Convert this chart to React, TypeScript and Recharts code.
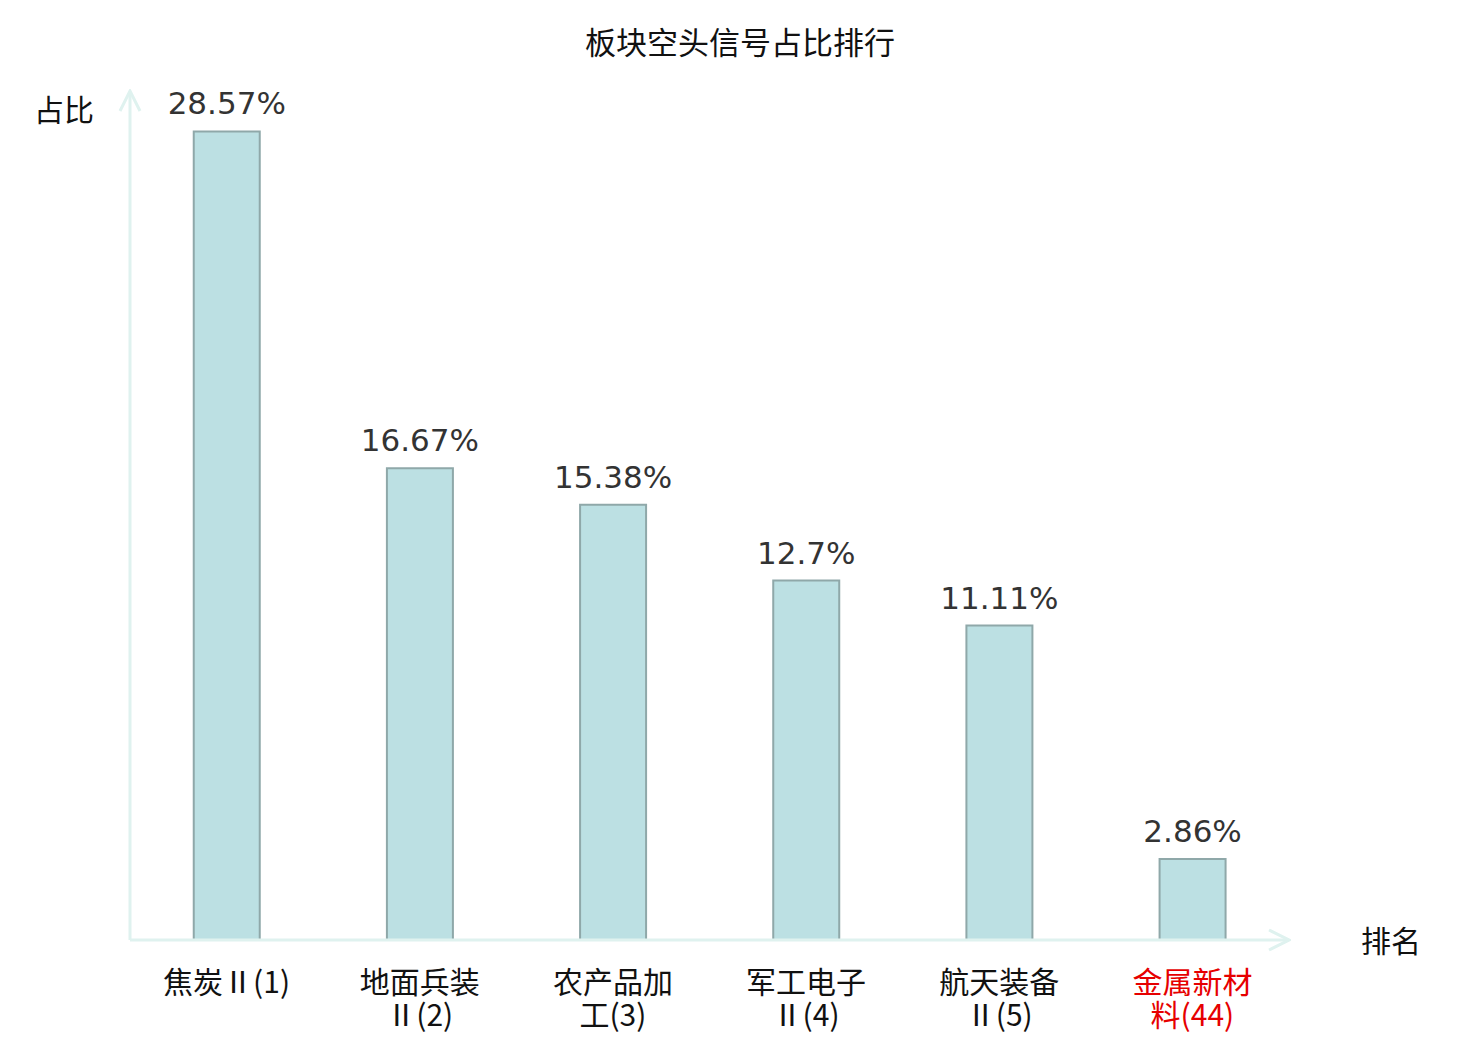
import { Bar, BarChart, LabelList, XAxis, YAxis } from 'recharts'

const categories = [
  ['焦炭Ⅱ(1)'],
  ['地面兵装', 'Ⅱ(2)'],
  ['农产品加', '工(3)'],
  ['军工电子', 'Ⅱ(4)'],
  ['航天装备', 'Ⅱ(5)'],
  ['金属新材', '料(44)'],
]
const ratios = [28.57, 16.67, 15.38, 12.7, 11.11, 2.86]
const highlighted = [false, false, false, false, false, true]

const data = categories.map((lines, i) => ({ name: lines.join(''), ratio: ratios[i] }))

const axisColor = '#dff2ef'
const cjkFont = '"Noto Sans CJK SC", "DejaVu Sans", sans-serif'

function CategoryTick({ x, y, index }: any) {
  const lines = categories[index] ?? []
  const fill = highlighted[index] ? '#e60000' : '#111'
  return (
    <g>
      {lines.map((line, i) => (
        <text key={i} x={x} y={y + 37 + i * 33} textAnchor="middle" dominantBaseline="middle" fontSize={30} fontFamily={cjkFont} fill={fill}>
          {line}
        </text>
      ))}
    </g>
  )
}

export default function App() {
  return (
    <div style={{ position: 'absolute', left: 0, top: 0, width: 1480, height: 1040, background: '#fff' }}>
      <svg width={0} height={0} style={{ position: 'absolute' }}>
        <defs>
          <marker id="axisArrow" viewBox="0 0 24 24" refX="22" refY="12" markerWidth="24" markerHeight="24" markerUnits="userSpaceOnUse" orient="auto-start-reverse">
            <path d="M 2 2 L 22 12 L 2 22" fill="none" stroke={axisColor} strokeWidth={3} />
          </marker>
        </defs>
      </svg>
      <div style={{ position: 'absolute', left: 0, top: 18, width: 1480, textAlign: 'center', fontSize: 31, fontFamily: cjkFont, color: '#111' }}>
        板块空头信号占比排行
      </div>
      <div style={{ position: 'absolute', left: 34, top: 86, fontSize: 30, fontFamily: cjkFont, color: '#111' }}>占比</div>
      <div style={{ position: 'absolute', left: 1361, top: 917, fontSize: 30, fontFamily: cjkFont, color: '#111' }}>排名</div>
      <BarChart width={1480} height={1040} data={data} margin={{ top: 91, right: 191, bottom: 0, left: 0 }} barCategoryGap="33%">
        <XAxis
          dataKey="name"
          interval={0}
          tickLine={false}
          axisLine={{ stroke: axisColor, strokeWidth: 3, markerEnd: 'url(#axisArrow)' } as any}
          tick={<CategoryTick />}
          height={100}
        />
        <YAxis
          domain={[0, 30]}
          width={130}
          tick={false}
          tickLine={false}
          axisLine={{ stroke: axisColor, strokeWidth: 3, markerStart: 'url(#axisArrow)' } as any}
        />
        <Bar dataKey="ratio" fill="#bce0e3" stroke="#8fa8a9" strokeWidth={2} isAnimationActive={false}>
          <LabelList
            dataKey="ratio"
            position="top"
            offset={17}
            formatter={(v: any) => `${v}%`}
            style={{ fontSize: 31, fontFamily: '"DejaVu Sans", sans-serif', fill: '#333' }}
          />
        </Bar>
      </BarChart>
    </div>
  )
}
